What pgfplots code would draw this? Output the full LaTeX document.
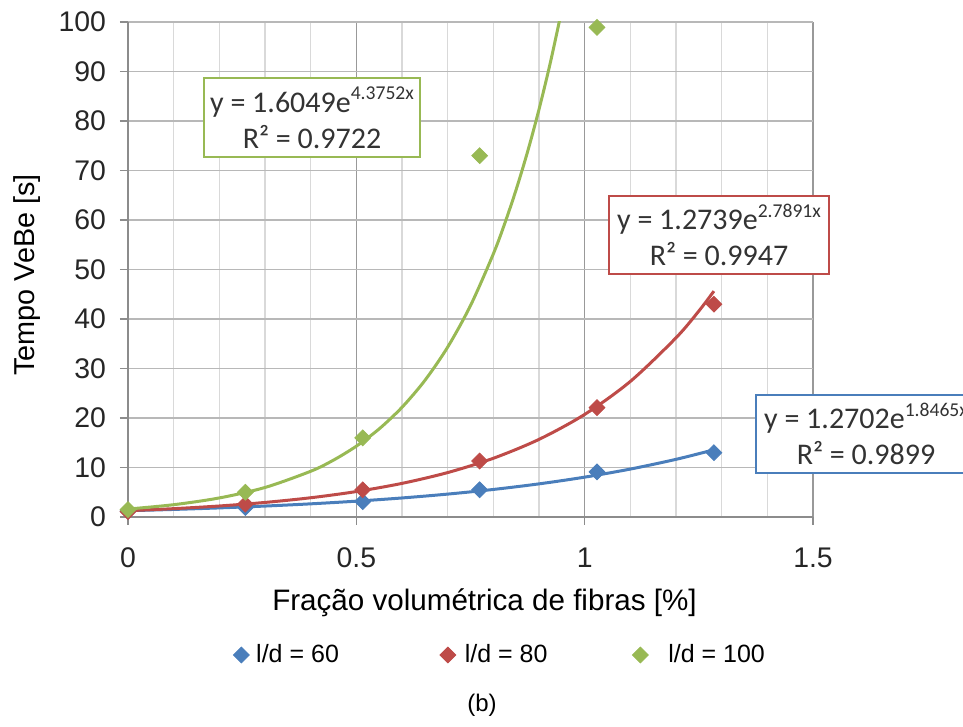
\documentclass[border=0pt]{standalone}
\usepackage{fontspec}
\setmainfont{Liberation Sans}
\newfontfamily\calibri{Carlito}
\usepackage{pgfplots}
\pgfplotsset{compat=1.18}
\definecolor{ldblue}{HTML}{4A7EBB}
\definecolor{ldred}{HTML}{BE4B48}
\definecolor{ldgreen}{HTML}{98B954}
\newcommand\expo[1]{\raisebox{0.42em}{\fontsize{9.8}{10}\selectfont #1}}

\begin{document}
\begin{tikzpicture}
  \path[use as bounding box] (-64pt,-105pt) rectangle (417.5pt,258.5pt);
  \begin{axis}[
      at={(0,0)}, anchor=south west,
      scale only axis,
      width=342.5pt, height=247.5pt,
      xmin=0, xmax=1.5, ymin=0, ymax=100,
      xtick={0,0.5,1,1.5},
      xticklabels={0,0.5,1,1.5},
      ytick={0,10,...,100},
      minor x tick num=4,
      grid=both,
      major x grid style={black!40, line width=0.8pt},
      minor x grid style={black!15, line width=0.8pt},
      major y grid style={black!28, line width=0.8pt},
      axis x line*=bottom, axis y line*=left,
      axis line style={black!45, line width=0.8pt},
      tick align=outside, major tick length=4pt, minor tick length=0pt,
      tick style={black!45, line width=0.8pt},
      /pgf/number format/assume math mode=true,
      tick label style={font=\fontsize{14.2}{17}\selectfont, text=black!85},
      xticklabel style={yshift=-8pt},
      yticklabel style={xshift=-3.5pt},
      xlabel={Fração volumétrica de fibras [\%]},
      ylabel={Tempo VeBe [s]},
      xlabel style={at={(axis description cs:0.5204,-0.1737)}, anchor=center,
        font=\fontsize{14.8}{17}\selectfont},
      ylabel style={at={(axis description cs:-0.147,0.489)}, anchor=center,
        font=\fontsize{14.4}{17}\selectfont},
      legend columns=3,
      legend style={at={(axis description cs:0,0)}, anchor=west,
        xshift=49.5pt, yshift=-69pt, draw=none, fill=none,
        font=\fontsize{12.5}{15}\selectfont,
        /tikz/column 1/.style={column sep=1.5pt},
        /tikz/column 2/.style={column sep=48.5pt},
        /tikz/column 3/.style={column sep=2.5pt},
        /tikz/column 4/.style={column sep=40.5pt},
        /tikz/column 5/.style={column sep=8pt}},
      legend image code/.code={\draw[mark repeat=2,mark phase=2,#1]
        plot coordinates {(0cm,0cm) (0.15cm,0cm) (0.3cm,0cm)};},
      clip marker paths=false,
    ]
    % trend lines (exponential fits shown in the boxes)
    \addplot[ldblue, line width=1.5pt, smooth, forget plot] coordinates {
      (0,1.270) (0.1,1.528) (0.2,1.838) (0.3,2.210) (0.4,2.658) (0.5,3.198)
      (0.6,3.846) (0.7,4.626) (0.8,5.564) (0.9,6.693) (1.0,8.050)
      (1.1,9.683) (1.2,11.647) (1.283,13.575)
    };
    \addplot[ldred, line width=1.5pt, smooth, forget plot] coordinates {
      (0,1.274) (0.1,1.684) (0.2,2.225) (0.3,2.941) (0.4,3.887) (0.5,5.138)
      (0.6,6.791) (0.7,8.975) (0.8,11.863) (0.9,15.680) (1.0,20.724)
      (1.1,27.389) (1.2,36.199) (1.25,41.61) (1.283,45.63)
    };
    \addplot[ldgreen, line width=1.5pt, smooth, forget plot] coordinates {
      (0,1.605) (0.1,2.486) (0.2,3.850) (0.3,5.963) (0.4,9.236) (0.45,11.49)
      (0.5,14.31) (0.55,17.80) (0.6,22.16) (0.65,27.58) (0.7,34.32)
      (0.75,42.71) (0.8,53.15) (0.825,59.30) (0.85,66.15) (0.875,73.80)
      (0.9,82.33) (0.925,91.85) (0.95,102.5)
    };
    % measured points
    \addplot[only marks, mark=square*, mark size=2.8pt,
      mark options={rotate=45, fill=ldblue, draw=ldblue}] coordinates {
      (0,1.2) (0.257,1.9) (0.514,3.1) (0.770,5.5) (1.027,9.1) (1.283,13.0)
    };
    \addlegendentry{l/d = 60}
    \addplot[only marks, mark=square*, mark size=2.8pt,
      mark options={rotate=45, fill=ldred, draw=ldred}] coordinates {
      (0,1.1) (0.257,2.6) (0.514,5.5) (0.770,11.3) (1.027,22.1) (1.283,43.0)
    };
    \addlegendentry{l/d = 80}
    \addplot[only marks, mark=square*, mark size=2.8pt,
      mark options={rotate=45, fill=ldgreen, draw=ldgreen}] coordinates {
      (0,1.5) (0.257,5.0) (0.514,16.0) (0.770,73.0) (1.027,98.9)
    };
    \addlegendentry{l/d = 100}
  \end{axis}

  % equation boxes
  \tikzset{eqbox/.style={fill=white, line width=1pt, align=center,
      inner sep=0pt, font=\calibri\fontsize{15}{18}\selectfont, text=black!80}}
  \node[eqbox, draw=ldgreen, minimum width=108pt, minimum height=39.5pt]
    at (92pt,199.5pt) {y = 1.6049e\expo{4.3752x}\\R² = 0.9722};
  \node[eqbox, draw=ldred, minimum width=110pt, minimum height=39pt]
    at (295.5pt,141pt) {y = 1.2739e\expo{2.7891x}\\R² = 0.9947};
  \node[eqbox, draw=ldblue, minimum width=110pt, minimum height=39pt]
    at (369pt,41.5pt) {y = 1.2702e\expo{1.8465x}\\R² = 0.9899};
  \node[font=\fontsize{12}{14}\selectfont] at (177pt,-94pt) {(b)};
\end{tikzpicture}
\end{document}
